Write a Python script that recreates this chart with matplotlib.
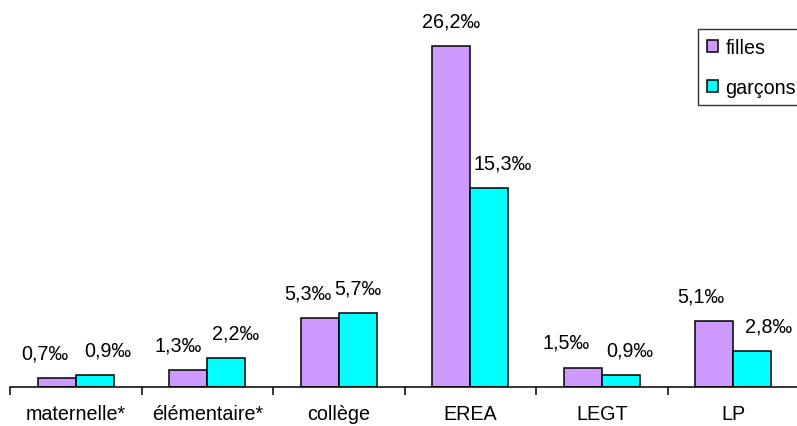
import numpy as np
import matplotlib
matplotlib.use("Agg")
import matplotlib.pyplot as plt
from matplotlib.patches import Patch

plt.rcParams['font.family'] = ['Liberation Sans', 'DejaVu Sans']

# data (per mille)
categories = ['maternelle*', 'élémentaire*', 'collège', 'EREA', 'LEGT', 'LP']
filles = [0.7, 1.3, 5.3, 26.2, 1.5, 5.1]
garcons = [0.9, 2.2, 5.7, 15.3, 0.9, 2.8]
filles_labels = ['0,7‰', '1,3‰', '5,3‰', '26,2‰', '1,5‰', '5,1‰']
garcons_labels = ['0,9‰', '2,2‰', '5,7‰', '15,3‰', '0,9‰', '2,8‰']

# horizontal nudges of the value labels (pixels), like Excel does
filles_dx = [-12, -10, -12, 0, -17, -13]
garcons_dx = [13, 9, 0, 13, 9, 16]

W, H = 797, 427
fig = plt.figure(figsize=(W / 100, H / 100), dpi=100)
ax = fig.add_axes([10 / W, 39 / H, 789 / W, 388 / H])

x = np.arange(len(categories))
w = 0.289
ax.bar(x - w / 2, filles, w, color='#CC99FF', edgecolor='black', linewidth=1.1, label='filles')
ax.bar(x + w / 2, garcons, w, color='#00FFFF', edgecolor='black', linewidth=1.1, label='garçons')

fs = 14.2
px = 0.72
for i in range(len(categories)):
    ax.annotate(filles_labels[i], (x[i] - w / 2, filles[i]), xytext=(filles_dx[i] * px, 25 * px),
                textcoords='offset points', ha='center', va='center', fontsize=fs)
    ax.annotate(garcons_labels[i], (x[i] + w / 2, garcons[i]), xytext=(garcons_dx[i] * px, 25 * px),
                textcoords='offset points', ha='center', va='center', fontsize=fs)

ax.set_xlim(-0.5, len(categories) - 0.5)
ax.set_ylim(0, 388 / 13.0)
for s in ['top', 'right', 'left']:
    ax.spines[s].set_visible(False)
ax.spines['bottom'].set_linewidth(1.1)
ax.set_yticks([])
ax.set_xticks(x)
ax.set_xticklabels(categories, fontsize=fs)
ax.tick_params(axis='x', which='major', length=0, pad=12)
ax.set_xticks(np.arange(len(categories)) - 0.5, minor=True)
ax.tick_params(axis='x', which='minor', length=6, width=1.1, direction='out')

handles = [Patch(facecolor='#CC99FF', edgecolor='black', linewidth=1.1),
           Patch(facecolor='#00FFFF', edgecolor='black', linewidth=1.1)]
leg = fig.legend(handles, ['filles', 'garçons'], loc='upper left',
                 bbox_to_anchor=(698 / W, 1 - 30 / H), fontsize=14.2,
                 frameon=True, fancybox=False, edgecolor='black',
                 handlelength=0.55, handleheight=0.55, handletextpad=0.4,
                 labelspacing=1.05, borderpad=0.45, borderaxespad=0)
leg.get_frame().set_linewidth(1.0)

fig.savefig('out.png', dpi=100)
